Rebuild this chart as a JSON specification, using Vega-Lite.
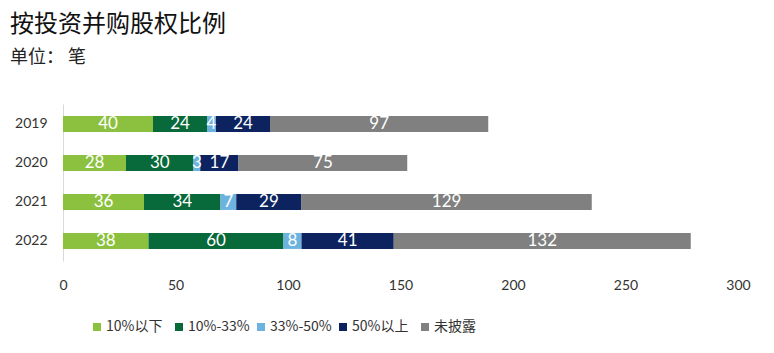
{
  "$schema": "https://vega.github.io/schema/vega-lite/v6.json",
  "width": 675,
  "height": 157,
  "autosize": "none",
  "padding": {"left": 63, "top": 104, "right": 36, "bottom": 92},
  "background": "white",
  "title": {
    "text": "按投资并购股权比例",
    "subtitle": "单位： 笔",
    "anchor": "start",
    "frame": "group",
    "dx": -53,
    "offset": 37,
    "font": "Noto Sans CJK SC",
    "fontSize": 24,
    "fontWeight": "normal",
    "color": "#111111",
    "subtitleFont": "Noto Sans CJK SC",
    "subtitleFontSize": 18,
    "subtitleColor": "#222222",
    "subtitlePadding": 12
  },
  "config": {"view": {"stroke": null}},
  "data": {
    "values": [
      {"year": "2019", "cat": "10%以下", "k": 1, "v": 40},
      {"year": "2019", "cat": "10%-33%", "k": 2, "v": 24},
      {"year": "2019", "cat": "33%-50%", "k": 3, "v": 4},
      {"year": "2019", "cat": "50%以上", "k": 4, "v": 24},
      {"year": "2019", "cat": "未披露", "k": 5, "v": 97},
      {"year": "2020", "cat": "10%以下", "k": 1, "v": 28},
      {"year": "2020", "cat": "10%-33%", "k": 2, "v": 30},
      {"year": "2020", "cat": "33%-50%", "k": 3, "v": 3},
      {"year": "2020", "cat": "50%以上", "k": 4, "v": 17},
      {"year": "2020", "cat": "未披露", "k": 5, "v": 75},
      {"year": "2021", "cat": "10%以下", "k": 1, "v": 36},
      {"year": "2021", "cat": "10%-33%", "k": 2, "v": 34},
      {"year": "2021", "cat": "33%-50%", "k": 3, "v": 7},
      {"year": "2021", "cat": "50%以上", "k": 4, "v": 29},
      {"year": "2021", "cat": "未披露", "k": 5, "v": 129},
      {"year": "2022", "cat": "10%以下", "k": 1, "v": 38},
      {"year": "2022", "cat": "10%-33%", "k": 2, "v": 60},
      {"year": "2022", "cat": "33%-50%", "k": 3, "v": 8},
      {"year": "2022", "cat": "50%以上", "k": 4, "v": 41},
      {"year": "2022", "cat": "未披露", "k": 5, "v": 132}
    ]
  },
  "transform": [
    {"stack": "v", "groupby": ["year"], "sort": [{"field": "k"}], "as": ["v0", "v1"]},
    {"calculate": "(datum.v0 + datum.v1) / 2", "as": "mid"}
  ],
  "encoding": {
    "y": {
      "field": "year",
      "type": "ordinal",
      "title": null,
      "scale": {"paddingInner": 0.59, "paddingOuter": 0.31},
      "axis": {
        "domainColor": "#d9d9d9",
        "ticks": false,
        "labelPadding": 16,
        "labelFont": "Lato",
        "labelFontSize": 14,
        "labelColor": "#333333"
      }
    }
  },
  "layer": [
    {
      "mark": {"type": "bar"},
      "encoding": {
        "x": {
          "field": "v0",
          "type": "quantitative",
          "title": null,
          "scale": {"domain": [0, 300]},
          "axis": {
            "values": [0, 50, 100, 150, 200, 250, 300],
            "domain": false,
            "ticks": false,
            "grid": false,
            "labelPadding": 17,
            "labelFont": "Lato",
            "labelFontSize": 14,
            "labelColor": "#333333",
            "labelFlush": false
          }
        },
        "x2": {"field": "v1"},
        "color": {
          "field": "cat",
          "type": "nominal",
          "title": null,
          "scale": {
            "domain": ["10%以下", "10%-33%", "33%-50%", "50%以上", "未披露"],
            "range": ["#8CC13F", "#08693A", "#6DB3E0", "#0D2360", "#808080"]
          },
          "legend": {
            "orient": "none",
            "legendX": 27,
            "legendY": 216,
            "direction": "horizontal",
            "columns": 5,
            "gridAlign": "all",
            "columnPadding": 4,
            "symbolType": "square",
            "symbolSize": 64,
            "symbolStrokeWidth": 0,
            "labelFont": "Noto Sans CJK SC",
            "labelFontSize": 14,
            "labelColor": "#333333",
            "labelOffset": 2
          }
        }
      }
    },
    {
      "mark": {"type": "text", "color": "white", "font": "Lato", "fontSize": 17, "align": "center", "baseline": "middle"},
      "encoding": {
        "x": {"field": "mid", "type": "quantitative"},
        "text": {"field": "v", "type": "quantitative"}
      }
    }
  ]
}
